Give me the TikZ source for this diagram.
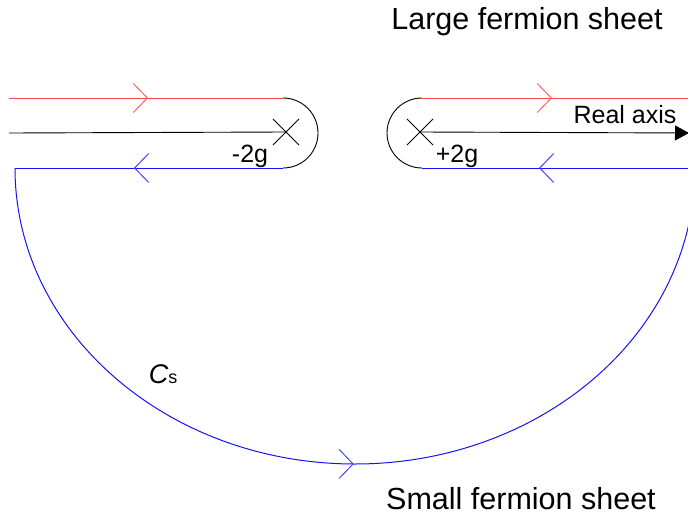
\documentclass[tikz,border=0pt]{standalone}
\usepackage{fontspec}
\setmainfont{Liberation Sans}
\usetikzlibrary{arrows.meta, decorations.markings, calc}
\definecolor{clrRd} {RGB}{255, 70, 70}
\definecolor{clrRdL}{RGB}{255,100,100}
\definecolor{clrBl} {RGB}{ 20, 20,240}
\definecolor{clrBlL}{RGB}{ 70, 70,255}

\begin{document}
\begin{tikzpicture}[
  x=1pt, y=-1pt,
  %% ── line styles ──────────────────────────────────────────────────────────
  redln/.style = {draw=clrRd, line width=1pt},
  bluln/.style = {draw=clrBl, line width=1pt},
  blkln/.style = {draw=black, line width=0.9pt},
  %% ── chevrons along the contour ───────────────────────────────────────────
  rchev/.style = {postaction={decorate, decoration={markings,
                   mark=at position #1 with {\arrow{Straight Barb[length=14pt,width=29pt,color=clrRdL]}}}}},
  bchev/.style = {postaction={decorate, decoration={markings,
                   mark=at position #1 with {\arrow{Straight Barb[length=14pt,width=29pt,color=clrBlL]}}}}},
  %% ── label styles ─────────────────────────────────────────────────────────
  ttl/.style  = {font=\fontsize{30.5}{36}\selectfont, anchor=base},
  lab/.style  = {font=\fontsize{25}{30}\selectfont, anchor=base, inner sep=0pt},
]
\useasboundingbox (0,0) rectangle (688,514);

%% ═══════════════════════════════════════════════════════════════════════════
%% CONTOUR POINTS
%% ═══════════════════════════════════════════════════════════════════════════
\coordinate (rlA) at (9,98);    \coordinate (rlB) at (283,98);
\coordinate (blA) at (283,168); \coordinate (blB) at (15,168);
\coordinate (rrA) at (422,98);  \coordinate (rrB) at (688,98);
\coordinate (brA) at (688,168); \coordinate (brB) at (422,168);
\coordinate (axL) at (9,133);   \coordinate (mpt) at (286,132);
\coordinate (ppt) at (420,132); \coordinate (axR) at (689,133);

%% ── left part: above / below the cut ending at -2g ───────────────────────
\draw[redln, rchev=139pt] (rlA) -- (rlB);
\draw[blkln] (rlB) arc[start angle=-90, end angle=90, radius=35];
\draw[bluln, bchev=149pt] (blA) -- (blB);

%% ── right part: above / below the cut starting at +2g ────────────────────
\draw[blkln] (rrA) arc[start angle=-90, end angle=-270, radius=35];
\draw[redln, rchev=130pt] (rrA) -- (rrB);
\draw[bluln, bchev=149pt] (brA) -- (brB);

%% ── large half ellipse on the small sheet ─────────────────────────────────
\draw[bluln, bchev=499pt] (blB)
      arc[start angle=180, end angle=11, x radius=340, y radius=296];

%% ── real axis and branch points ───────────────────────────────────────────
\draw[blkln] (axL) -- (mpt);
\draw[blkln, -{Triangle[length=14pt,width=15pt]}] (ppt) -- (axR);
\draw[blkln] ($(mpt)+(-13,-13)$) -- ($(mpt)+(13,13)$);
\draw[blkln] ($(mpt)+(-13,13)$) -- ($(mpt)+(13,-13)$);
\draw[blkln] ($(ppt)+(-13,-13)$) -- ($(ppt)+(13,13)$);
\draw[blkln] ($(ppt)+(-13,13)$) -- ($(ppt)+(13,-13)$);

%% ── labels ────────────────────────────────────────────────────────────────
\node[lab] (mtwo)  at (250,162) {-2g};
\node[lab] (ptwo)  at (457,162) {+2g};
\node[lab] (realx) at (625,123) {Real axis};
\node[lab] (cs)    at (163,383) {{\fontsize{27}{30}\selectfont\itshape C}{\fontsize{18}{20}\selectfont s}};
\node[ttl] (large) at (527,29)  {Large fermion sheet};
\node[ttl] (small) at (521,509) {Small fermion sheet};

\end{tikzpicture}
\end{document}
